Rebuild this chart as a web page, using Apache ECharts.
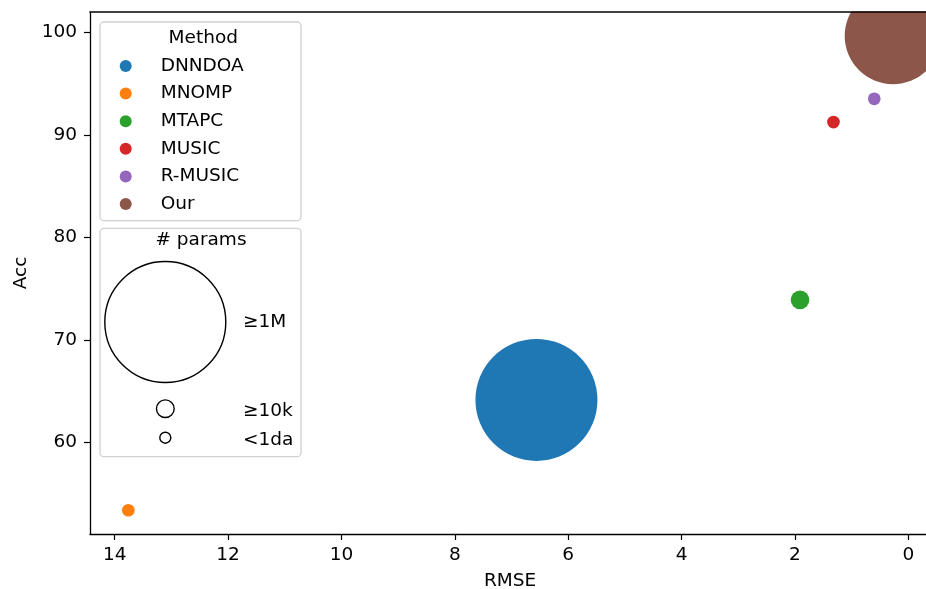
<!DOCTYPE html>
<html>
<head>
<meta charset="utf-8">
<script src="https://cdn.jsdelivr.net/npm/echarts@6/dist/echarts.min.js"></script>
<style>
html,body{margin:0;padding:0;background:#fff;}
#chart{width:926px;height:589px;}
</style>
</head>
<body>
<div id="chart"></div>
<script>
// ---- data ----
const methods = ['DNNDOA', 'MNOMP', 'MTAPC', 'MUSIC', 'R-MUSIC', 'Our'];
const rmse = [6.56, 13.76, 1.91, 1.32, 0.60, 0.27];
const acc = [64.14, 53.37, 73.91, 91.26, 93.53, 99.67];
const markerSize = [122, 12.7, 18.7, 12.7, 12.7, 96.6];
const colors = ['#1f77b4', '#ff7f0e', '#2ca02c', '#d62728', '#9467bd', '#8c564b'];
const xTicks = [0, 2, 4, 6, 8, 10, 12, 14];
const yTicks = [60, 70, 80, 90, 100];
const sizeLabels = ['\u22651M', '\u226510k', '<1da'];
const sizeDiam = [121, 17.7, 11];

const FONT = 'DejaVu Sans';
const FS = 18.5;

const chart = echarts.init(document.getElementById('chart'), null, {renderer: 'canvas'});

const series = methods.map((m, i) => ({
  name: m,
  type: 'scatter',
  data: [[rmse[i], acc[i]]],
  symbol: 'circle',
  symbolSize: markerSize[i],
  itemStyle: {color: colors[i], opacity: 1},
  emphasis: {disabled: true},
  z: 2
}));

// size legend graphics
const sizeCenterY = [322, 408.7, 437.7];
const sizeLabelY = [322.3, 411.2, 440.5];
const sizeGraphics = [];
sizeLabels.forEach((lab, i) => {
  sizeGraphics.push({
    type: 'circle', z: 30,
    shape: {cx: 165.3, cy: sizeCenterY[i], r: sizeDiam[i] / 2},
    style: {fill: 'rgba(0,0,0,0)', stroke: '#000', lineWidth: 1.4}
  });
  sizeGraphics.push({
    type: 'text', z: 30, x: 243, y: sizeLabelY[i],
    style: {text: lab, font: FS + 'px "' + FONT + '"', fill: '#000', textVerticalAlign: 'middle', textAlign: 'left'}
  });
});

const option = {
  backgroundColor: '#fff',
  animation: false,
  textStyle: {fontFamily: FONT},
  grid: {left: 90, right: -4, top: 12, bottom: 55, containLabel: false, outerBoundsMode: 'none'},
  xAxis: {
    type: 'value', inverse: true, min: -0.383, max: 14.436,
    name: 'RMSE', nameLocation: 'middle', nameGap: 38,
    nameTextStyle: {fontSize: FS, color: '#000', fontFamily: FONT},
    splitLine: {show: false},
    axisLine: {show: true, onZero: false, lineStyle: {color: '#000', width: 1.3}},
    axisTick: {show: true, length: 6, inside: false, customValues: xTicks, lineStyle: {color: '#000', width: 1.2}},
    axisLabel: {customValues: xTicks, fontSize: FS, color: '#000', fontFamily: FONT, margin: 12, showMinLabel: true, showMaxLabel: true}
  },
  yAxis: {
    type: 'value', min: 51.05, max: 102,
    name: 'Acc', nameLocation: 'middle', nameGap: 54, nameRotate: 90,
    nameTextStyle: {fontSize: FS, color: '#000', fontFamily: FONT},
    splitLine: {show: false},
    axisLine: {show: true, onZero: false, lineStyle: {color: '#000', width: 1.3}},
    axisTick: {show: true, length: 6, inside: false, customValues: yTicks, lineStyle: {color: '#000', width: 1.2}},
    axisLabel: {customValues: yTicks, fontSize: FS, color: '#000', fontFamily: FONT, margin: 13}
  },
  legend: {
    data: methods,
    orient: 'vertical',
    left: 119.7, top: 56,
    padding: 0,
    itemWidth: 12, itemHeight: 12,
    itemGap: 7.6,
    icon: 'circle',
    selectedMode: false,
    z: 30,
    textStyle: {fontSize: FS, color: '#000', fontFamily: FONT, lineHeight: 20, padding: [0, 0, 0, 24]}
  },
  graphic: [
    // cover overflow above plot top
    {type: 'rect', z: 50, shape: {x: 0, y: 0, width: 926, height: 11.4}, style: {fill: '#fff'}},
    {type: 'line', z: 51, shape: {x1: 89.35, y1: 12, x2: 926, y2: 12}, style: {stroke: '#000', lineWidth: 1.3}},
    // legend boxes
    {type: 'rect', z: 10, shape: {x: 100, y: 22, width: 201, height: 198.7, r: 4},
      style: {fill: 'rgba(255,255,255,0.8)', stroke: '#d0d0d0', lineWidth: 1.3}},
    {type: 'text', z: 30, x: 203.3, y: 37.8,
      style: {text: 'Method', font: FS + 'px "' + FONT + '"', fill: '#000', textAlign: 'center', textVerticalAlign: 'middle'}},
    {type: 'rect', z: 10, shape: {x: 100, y: 228.3, width: 201, height: 228.4, r: 4},
      style: {fill: 'rgba(255,255,255,0.8)', stroke: '#d0d0d0', lineWidth: 1.3}},
    {type: 'text', z: 30, x: 201, y: 240.5,
      style: {text: '# params', font: FS + 'px "' + FONT + '"', fill: '#000', textAlign: 'center', textVerticalAlign: 'middle'}},
    ...sizeGraphics
  ],
  series: series
};

chart.setOption(option);
</script>
</body>
</html>
